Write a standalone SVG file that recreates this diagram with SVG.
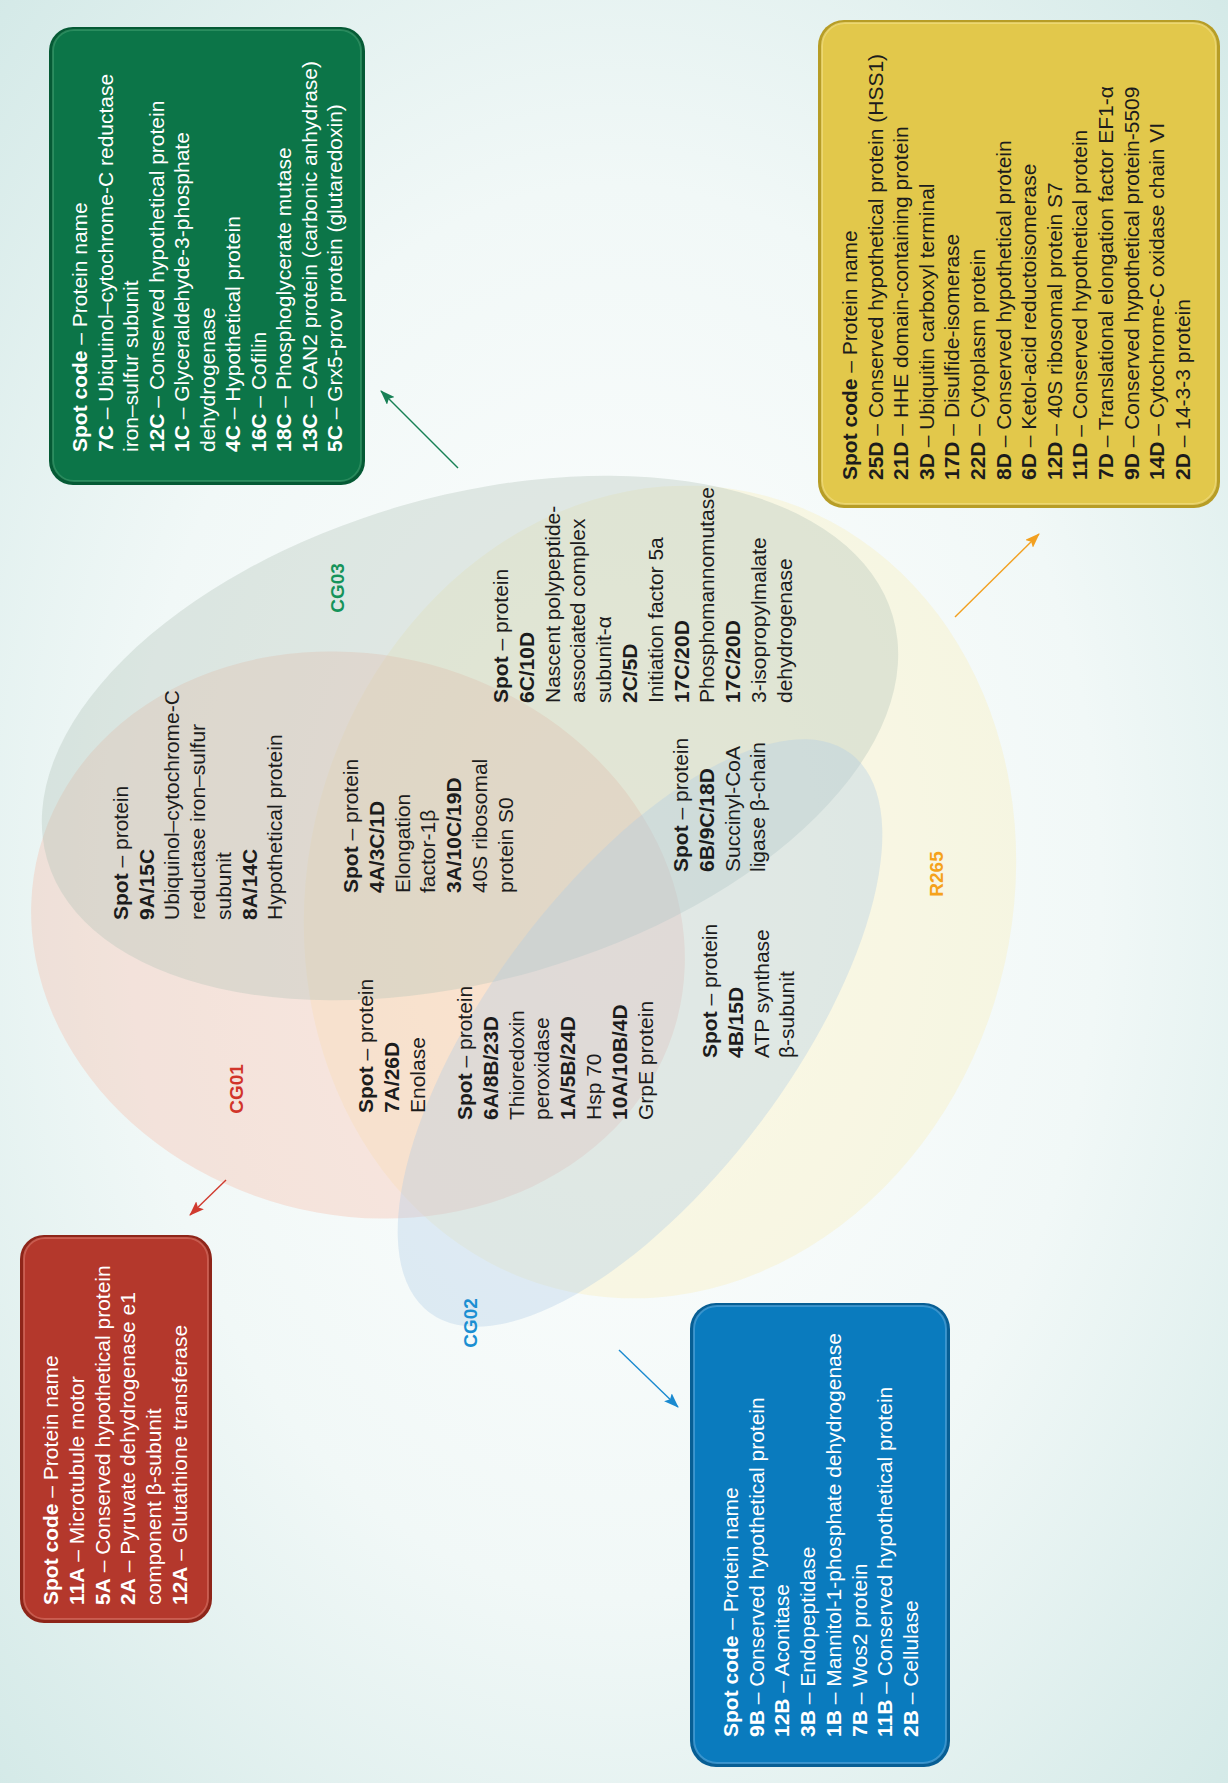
<svg xmlns="http://www.w3.org/2000/svg" width="1228" height="1783" viewBox="0 0 1228 1783">
<defs>
<radialGradient id="bg" cx="50%" cy="50%" r="72%">
<stop offset="0" stop-color="#ffffff"/>
<stop offset="0.55" stop-color="#f1f8f7"/>
<stop offset="1" stop-color="#d3e9e7"/>
</radialGradient>
<marker id="ag" markerUnits="userSpaceOnUse" markerWidth="15" markerHeight="11" refX="14" refY="5.5" orient="auto"><path d="M0,0 L15,5.5 L0,11 L3,5.5 z" fill="#178055"/></marker>
<marker id="ar" markerUnits="userSpaceOnUse" markerWidth="15" markerHeight="11" refX="14" refY="5.5" orient="auto"><path d="M0,0 L15,5.5 L0,11 L3,5.5 z" fill="#d03a2e"/></marker>
<marker id="ab" markerUnits="userSpaceOnUse" markerWidth="15" markerHeight="11" refX="14" refY="5.5" orient="auto"><path d="M0,0 L15,5.5 L0,11 L3,5.5 z" fill="#1a8ad0"/></marker>
<marker id="ao" markerUnits="userSpaceOnUse" markerWidth="15" markerHeight="11" refX="14" refY="5.5" orient="auto"><path d="M0,0 L15,5.5 L0,11 L3,5.5 z" fill="#f2a020"/></marker>
<style>
.t{font-family:"Liberation Sans",Arial,Helvetica,sans-serif;font-size:21px;fill:#1c1c1c}
.w{fill:#ffffff}
.b{font-weight:bold}
.lbl{font-family:"Liberation Sans",Arial,sans-serif;font-size:19px;font-weight:bold;text-anchor:middle}
.set{fill-opacity:0.35}
.conn{fill:none;stroke-width:1.4}
</style>
</defs>
<rect x="0" y="0" width="1228" height="1783" fill="url(#bg)"/>

<g id="sets">
<ellipse id="R265" class="set" cx="660" cy="892" rx="352" ry="410" transform="rotate(15 660 892)" fill="#faeeb6"/>
<ellipse id="CG01" class="set" cx="358" cy="935" rx="330" ry="280" transform="rotate(15 358 935)" fill="#f6bba6"/>
<ellipse id="CG03" class="set" cx="470" cy="738" rx="440" ry="242" transform="rotate(-16 470 738)" fill="#b1c3b7"/>
<ellipse id="CG02" class="set" cx="640" cy="1033" rx="350" ry="150" transform="rotate(-53 640 1033)" fill="#aecce5"/>
</g>

<g id="set-labels">
<text class="lbl" transform="rotate(-90)" x="-1089" y="243" fill="#d1342a">CG01</text>
<text class="lbl" transform="rotate(-90)" x="-588" y="344" fill="#15935a">CG03</text>
<text class="lbl" transform="rotate(-90)" x="-1323" y="477" fill="#1b8fd2">CG02</text>
<text class="lbl" transform="rotate(-90)" x="-874" y="943" fill="#f5a21b">R265</text>
</g>

<g id="connectors">
<line class="conn" x1="458" y1="468" x2="381" y2="391" stroke="#178055" marker-end="url(#ag)"/>
<line class="conn" x1="226" y1="1180" x2="190" y2="1215" stroke="#d03a2e" marker-end="url(#ar)"/>
<line class="conn" x1="619" y1="1350" x2="678" y2="1407" stroke="#1a8ad0" marker-end="url(#ab)"/>
<line class="conn" x1="955" y1="617" x2="1039" y2="534" stroke="#f2a020" marker-end="url(#ao)"/>
</g>

<g id="box-CG03">
<rect x="49" y="27" width="316" height="458" rx="24" fill="#055a35"/>
<rect x="53" y="30" width="308" height="451" rx="21" fill="#0c7548" stroke="#3f9e70" stroke-width="2" stroke-opacity="0.6"/>
<text class="t w" transform="rotate(-90)" x="-452" y="87">
<tspan x="-452" dy="0"><tspan class="b">Spot code</tspan> – Protein name</tspan>
<tspan x="-452" dy="25.5"><tspan class="b">7C</tspan> – Ubiquinol–cytochrome-C reductase</tspan>
<tspan x="-452" dy="25.5">iron–sulfur subunit</tspan>
<tspan x="-452" dy="25.5"><tspan class="b">12C</tspan> – Conserved hypothetical protein</tspan>
<tspan x="-452" dy="25.5"><tspan class="b">1C</tspan> – Glyceraldehyde-3-phosphate</tspan>
<tspan x="-452" dy="25.5">dehydrogenase</tspan>
<tspan x="-452" dy="25.5"><tspan class="b">4C</tspan> – Hypothetical protein</tspan>
<tspan x="-452" dy="25.5"><tspan class="b">16C</tspan> – Cofilin</tspan>
<tspan x="-452" dy="25.5"><tspan class="b">18C</tspan> – Phosphoglycerate mutase</tspan>
<tspan x="-452" dy="25.5"><tspan class="b">13C</tspan> – CAN2 protein (carbonic anhydrase)</tspan>
<tspan x="-452" dy="25.5"><tspan class="b">5C</tspan> – Grx5-prov protein (glutaredoxin)</tspan>
</text>
</g>

<g id="box-R265">
<rect x="818" y="20" width="402" height="488" rx="26" fill="#b79d26"/>
<rect x="822" y="23" width="394" height="481" rx="23" fill="#e2c84b" stroke="#f2de80" stroke-width="2" stroke-opacity="0.7"/>
<text class="t" transform="rotate(-90)" x="-480" y="857">
<tspan x="-480" dy="0"><tspan class="b">Spot code</tspan> – Protein name</tspan>
<tspan x="-480" dy="25.6"><tspan class="b">25D</tspan> – Conserved hypothetical protein (HSS1)</tspan>
<tspan x="-480" dy="25.6"><tspan class="b">21D</tspan> – HHE domain-containing protein</tspan>
<tspan x="-480" dy="25.6"><tspan class="b">3D</tspan> – Ubiquitin carboxyl terminal</tspan>
<tspan x="-480" dy="25.6"><tspan class="b">17D</tspan> – Disulfide-isomerase</tspan>
<tspan x="-480" dy="25.6"><tspan class="b">22D</tspan> – Cytoplasm protein</tspan>
<tspan x="-480" dy="25.6"><tspan class="b">8D</tspan> – Conserved hypothetical protein</tspan>
<tspan x="-480" dy="25.6"><tspan class="b">6D</tspan> – Ketol-acid reductoisomerase</tspan>
<tspan x="-480" dy="25.6"><tspan class="b">12D</tspan> – 40S ribosomal protein S7</tspan>
<tspan x="-480" dy="25.6"><tspan class="b">11D</tspan> – Conserved hypothetical protein</tspan>
<tspan x="-480" dy="25.6"><tspan class="b">7D</tspan> – Translational elongation factor EF1-α</tspan>
<tspan x="-480" dy="25.6"><tspan class="b">9D</tspan> – Conserved hypothetical protein-5509</tspan>
<tspan x="-480" dy="25.6"><tspan class="b">14D</tspan> – Cytochrome-C oxidase chain VI</tspan>
<tspan x="-480" dy="25.6"><tspan class="b">2D</tspan> – 14-3-3 protein</tspan>
</text>
</g>

<g id="box-CG01">
<rect x="20" y="1235" width="192" height="388" rx="24" fill="#8e2519"/>
<rect x="24" y="1238" width="184" height="381" rx="21" fill="#b4382c" stroke="#d66d61" stroke-width="2" stroke-opacity="0.7"/>
<text class="t w" transform="rotate(-90)" x="-1605" y="58">
<tspan x="-1605" dy="0"><tspan class="b">Spot code</tspan> – Protein name</tspan>
<tspan x="-1605" dy="25.8"><tspan class="b">11A</tspan> – Microtubule motor</tspan>
<tspan x="-1605" dy="25.8"><tspan class="b">5A</tspan> – Conserved hypothetical protein</tspan>
<tspan x="-1605" dy="25.8"><tspan class="b">2A</tspan> – Pyruvate dehydrogenase e1</tspan>
<tspan x="-1605" dy="25.8">component β-subunit</tspan>
<tspan x="-1605" dy="25.8"><tspan class="b">12A</tspan> – Glutathione transferase</tspan>
</text>
</g>

<g id="box-CG02">
<rect x="690" y="1303" width="260" height="464" rx="26" fill="#075e94"/>
<rect x="694" y="1306" width="252" height="457" rx="23" fill="#0a7bbe" stroke="#4ea3d8" stroke-width="2" stroke-opacity="0.7"/>
<text class="t w" transform="rotate(-90)" x="-1737" y="738">
<tspan x="-1737" dy="0"><tspan class="b">Spot code</tspan> – Protein name</tspan>
<tspan x="-1737" dy="25.7"><tspan class="b">9B</tspan> – Conserved hypothetical protein</tspan>
<tspan x="-1737" dy="25.7"><tspan class="b">12B</tspan> – Aconitase</tspan>
<tspan x="-1737" dy="25.7"><tspan class="b">3B</tspan> – Endopeptidase</tspan>
<tspan x="-1737" dy="25.7"><tspan class="b">1B</tspan> – Mannitol-1-phosphate dehydrogenase</tspan>
<tspan x="-1737" dy="25.7"><tspan class="b">7B</tspan> – Wos2 protein</tspan>
<tspan x="-1737" dy="25.7"><tspan class="b">11B</tspan> – Conserved hypothetical protein</tspan>
<tspan x="-1737" dy="25.7"><tspan class="b">2B</tspan> – Cellulase</tspan>
</text>
</g>

<g id="region-CG01-CG03">
<text class="t" transform="rotate(-90)" x="-920" y="128">
<tspan x="-920" dy="0"><tspan class="b">Spot</tspan> – protein</tspan>
<tspan x="-920" dy="25.7" class="b">9A/15C</tspan>
<tspan x="-920" dy="25.7">Ubiquinol–cytochrome-C</tspan>
<tspan x="-920" dy="25.7">reductase iron–sulfur</tspan>
<tspan x="-920" dy="25.7">subunit</tspan>
<tspan x="-920" dy="25.7" class="b">8A/14C</tspan>
<tspan x="-920" dy="25.7">Hypothetical protein</tspan>
</text>
</g>

<g id="region-CG01-CG03-R265">
<text class="t" transform="rotate(-90)" x="-893" y="358">
<tspan x="-893" dy="0"><tspan class="b">Spot</tspan> – protein</tspan>
<tspan x="-893" dy="25.8" class="b">4A/3C/1D</tspan>
<tspan x="-893" dy="25.8">Elongation</tspan>
<tspan x="-893" dy="25.8">factor-1β</tspan>
<tspan x="-893" dy="25.8" class="b">3A/10C/19D</tspan>
<tspan x="-893" dy="25.8">40S ribosomal</tspan>
<tspan x="-893" dy="25.8">protein S0</tspan>
</text>
</g>

<g id="region-CG03-R265">
<text class="t" transform="rotate(-90)" x="-703" y="508">
<tspan x="-703" dy="0"><tspan class="b">Spot</tspan> – protein</tspan>
<tspan x="-703" dy="25.8" class="b">6C/10D</tspan>
<tspan x="-703" dy="25.8">Nascent polypeptide-</tspan>
<tspan x="-703" dy="25.8">associated complex</tspan>
<tspan x="-703" dy="25.8">subunit-α</tspan>
<tspan x="-703" dy="25.8" class="b">2C/5D</tspan>
<tspan x="-703" dy="25.8">Initiation factor 5a</tspan>
<tspan x="-703" dy="25.8" class="b">17C/20D</tspan>
<tspan x="-703" dy="25.8">Phosphomannomutase</tspan>
<tspan x="-703" dy="25.8" class="b">17C/20D</tspan>
<tspan x="-703" dy="25.8">3-isopropylmalate</tspan>
<tspan x="-703" dy="25.8">dehydrogenase</tspan>
</text>
</g>

<g id="region-CG01-R265">
<text class="t" transform="rotate(-90)" x="-1113" y="373">
<tspan x="-1113" dy="0"><tspan class="b">Spot</tspan> – protein</tspan>
<tspan x="-1113" dy="25.8" class="b">7A/26D</tspan>
<tspan x="-1113" dy="25.8">Enolase</tspan>
</text>
</g>

<g id="region-CG01-CG02-R265">
<text class="t" transform="rotate(-90)" x="-1120" y="472">
<tspan x="-1120" dy="0"><tspan class="b">Spot</tspan> – protein</tspan>
<tspan x="-1120" dy="25.8" class="b">6A/8B/23D</tspan>
<tspan x="-1120" dy="25.8">Thioredoxin</tspan>
<tspan x="-1120" dy="25.8">peroxidase</tspan>
<tspan x="-1120" dy="25.8" class="b">1A/5B/24D</tspan>
<tspan x="-1120" dy="25.8">Hsp 70</tspan>
<tspan x="-1120" dy="25.8" class="b">10A/10B/4D</tspan>
<tspan x="-1120" dy="25.8">GrpE protein</tspan>
</text>
</g>

<g id="region-CG02-CG03-R265">
<text class="t" transform="rotate(-90)" x="-872" y="688">
<tspan x="-872" dy="0"><tspan class="b">Spot</tspan> – protein</tspan>
<tspan x="-872" dy="25.8" class="b">6B/9C/18D</tspan>
<tspan x="-872" dy="25.8">Succinyl-CoA</tspan>
<tspan x="-872" dy="25.8">ligase β-chain</tspan>
</text>
</g>

<g id="region-CG02-R265">
<text class="t" transform="rotate(-90)" x="-1058" y="717">
<tspan x="-1058" dy="0"><tspan class="b">Spot</tspan> – protein</tspan>
<tspan x="-1058" dy="25.8" class="b">4B/15D</tspan>
<tspan x="-1058" dy="25.8">ATP synthase</tspan>
<tspan x="-1058" dy="25.8">β-subunit</tspan>
</text>
</g>
</svg>
